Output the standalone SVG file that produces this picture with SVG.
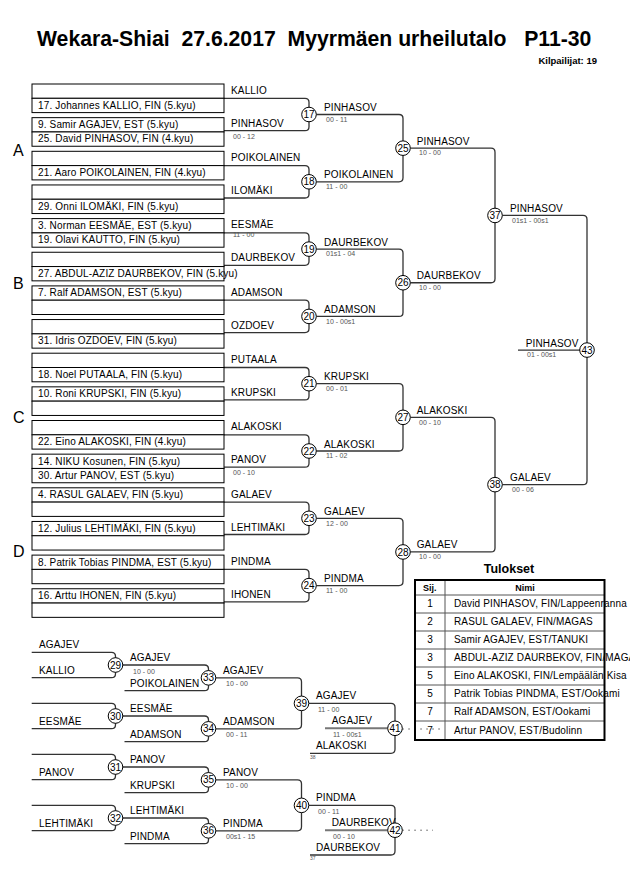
<svg xmlns="http://www.w3.org/2000/svg" width="630" height="891" viewBox="0 0 630 891">
<style>
.bg{fill:#fff}
.box{fill:#fff;stroke:#000;stroke-width:1}
.ln{fill:none;stroke:#333;stroke-width:1.3}
.gl{fill:none;stroke:#777;stroke-width:2}
.dl{fill:none;stroke:#555;stroke-width:1;stroke-dasharray:1.5 4.5}
.c{fill:#fff;stroke:#000;stroke-width:1}
text{font-family:"Liberation Sans",Arial,sans-serif;fill:#000}
.t{font-size:10px;letter-spacing:0.15px}
.s{font-size:7px;fill:#555}
.x{font-size:5px;fill:#555}
.cn{font-size:10px;text-anchor:middle}
.g{font-size:16px}
.tb{fill:none;stroke:#000;stroke-width:2}
.tl{fill:none;stroke:#555;stroke-width:1}
</style>
<rect class="bg" x="0" y="0" width="630" height="891"/>
<g id="header">
<text x="37" y="46" font-size="21.2" font-weight="bold" xml:space="preserve">Wekara-Shiai  27.6.2017  Myyrmäen urheilutalo   P11-30</text>
<text x="597" y="64" font-size="9.5" font-weight="bold" text-anchor="end">Kilpailijat: 19</text>
</g>
<g id="pools">
<text class="g" x="13" y="156">A</text>
<text class="g" x="13" y="289">B</text>
<text class="g" x="13" y="423">C</text>
<text class="g" x="13" y="557">D</text>
</g>
<g id="connectors">
<path class="ln" d="M224,98.3 H305 Q309,98.3 309,102.3 V126.7 Q309,130.7 305,130.7 H224"/>
<path class="ln" d="M224,165.6 H305 Q309,165.6 309,169.6 V194 Q309,198 305,198 H224"/>
<path class="ln" d="M224,232.9 H305 Q309,232.9 309,236.9 V261.3 Q309,265.3 305,265.3 H224"/>
<path class="ln" d="M224,300.2 H305 Q309,300.2 309,304.2 V328.6 Q309,332.6 305,332.6 H224"/>
<path class="ln" d="M224,367.5 H305 Q309,367.5 309,371.5 V395.9 Q309,399.9 305,399.9 H224"/>
<path class="ln" d="M224,434.8 H305 Q309,434.8 309,438.8 V463.2 Q309,467.2 305,467.2 H224"/>
<path class="ln" d="M224,502.1 H305 Q309,502.1 309,506.1 V530.5 Q309,534.5 305,534.5 H224"/>
<path class="ln" d="M224,569.4 H305 Q309,569.4 309,573.4 V597.8 Q309,601.8 305,601.8 H224"/>
<path class="ln" d="M316.3,114.5 H399 Q403,114.5 403,118.5 V177.8 Q403,181.8 399,181.8 H316.3"/>
<path class="ln" d="M316.3,249.1 H399 Q403,249.1 403,253.1 V312.4 Q403,316.4 399,316.4 H316.3"/>
<path class="ln" d="M316.3,383.7 H399 Q403,383.7 403,387.7 V447 Q403,451 399,451 H316.3"/>
<path class="ln" d="M316.3,518.3 H399 Q403,518.3 403,522.3 V581.6 Q403,585.6 399,585.6 H316.3"/>
<path class="ln" d="M410.3,148.15 H491 Q495,148.15 495,152.15 V278.75 Q495,282.75 491,282.75 H410.3"/>
<path class="ln" d="M410.3,417.35 H491 Q495,417.35 495,421.35 V547.95 Q495,551.95 491,551.95 H410.3"/>
<path class="ln" d="M502.3,215.45 H583 Q587,215.45 587,219.45 V480.65 Q587,484.65 583,484.65 H502.3"/>
<path class="ln" d="M518,350.05 H580"/>
<path class="ln" d="M31.7,652.3 H111.5 Q115.5,652.3 115.5,656.3 V673.7 Q115.5,677.7 111.5,677.7 H31.7"/>
<path class="ln" d="M31.7,703.3 H111.5 Q115.5,703.3 115.5,707.3 V724.7 Q115.5,728.7 111.5,728.7 H31.7"/>
<path class="ln" d="M31.7,754.3 H111.5 Q115.5,754.3 115.5,758.3 V775.7 Q115.5,779.7 111.5,779.7 H31.7"/>
<path class="ln" d="M31.7,805.3 H111.5 Q115.5,805.3 115.5,809.3 V826.7 Q115.5,830.7 111.5,830.7 H31.7"/>
<path class="ln" d="M122.8,665 H204.5 Q208.5,665 208.5,669 V686.7 Q208.5,690.7 204.5,690.7 H124.5"/>
<path class="ln" d="M122.8,716 H204.5 Q208.5,716 208.5,720 V737.7 Q208.5,741.7 204.5,741.7 H124.5"/>
<path class="ln" d="M122.8,767 H204.5 Q208.5,767 208.5,771 V788.7 Q208.5,792.7 204.5,792.7 H124.5"/>
<path class="ln" d="M122.8,818 H204.5 Q208.5,818 208.5,822 V839.7 Q208.5,843.7 204.5,843.7 H124.5"/>
<path class="ln" d="M215.8,677.85 H297.5 Q301.5,677.85 301.5,681.85 V724.85 Q301.5,728.85 297.5,728.85 H215.8"/>
<path class="ln" d="M215.8,779.85 H297.5 Q301.5,779.85 301.5,783.85 V826.85 Q301.5,830.85 297.5,830.85 H215.8"/>
<path class="ln" d="M308.8,703.35 H391 Q395,703.35 395,707.35 V749.3 Q395,753.3 391,753.3 H310"/>
<path class="ln" d="M308.8,805.35 H391 Q395,805.35 395,809.35 V851 Q395,855 391,855 H310"/>
<path class="gl" d="M325,728.3 H387.7"/>
<path class="gl" d="M325,830.2 H387.7"/>
<path class="dl" d="M402.3,729 H442"/>
<path class="dl" d="M402.3,830.2 H433"/>
</g>
<g id="entries">
<rect class="box" x="32" y="84" width="192" height="14.3"/>
<rect class="box" x="32" y="98.3" width="192" height="14.3"/>
<rect class="box" x="32" y="117.65" width="192" height="14.3"/>
<rect class="box" x="32" y="131.95" width="192" height="14.3"/>
<rect class="box" x="32" y="151.3" width="192" height="14.3"/>
<rect class="box" x="32" y="165.6" width="192" height="14.3"/>
<rect class="box" x="32" y="184.95" width="192" height="14.3"/>
<rect class="box" x="32" y="199.25" width="192" height="14.3"/>
<rect class="box" x="32" y="218.6" width="192" height="14.3"/>
<rect class="box" x="32" y="232.9" width="192" height="14.3"/>
<rect class="box" x="32" y="252.25" width="192" height="14.3"/>
<rect class="box" x="32" y="266.55" width="192" height="14.3"/>
<rect class="box" x="32" y="285.9" width="192" height="14.3"/>
<rect class="box" x="32" y="300.2" width="192" height="14.3"/>
<rect class="box" x="32" y="319.55" width="192" height="14.3"/>
<rect class="box" x="32" y="333.85" width="192" height="14.3"/>
<rect class="box" x="32" y="353.2" width="192" height="14.3"/>
<rect class="box" x="32" y="367.5" width="192" height="14.3"/>
<rect class="box" x="32" y="386.85" width="192" height="14.3"/>
<rect class="box" x="32" y="401.15" width="192" height="14.3"/>
<rect class="box" x="32" y="420.5" width="192" height="14.3"/>
<rect class="box" x="32" y="434.8" width="192" height="14.3"/>
<rect class="box" x="32" y="454.15" width="192" height="14.3"/>
<rect class="box" x="32" y="468.45" width="192" height="14.3"/>
<rect class="box" x="32" y="487.8" width="192" height="14.3"/>
<rect class="box" x="32" y="502.1" width="192" height="14.3"/>
<rect class="box" x="32" y="521.45" width="192" height="14.3"/>
<rect class="box" x="32" y="535.75" width="192" height="14.3"/>
<rect class="box" x="32" y="555.1" width="192" height="14.3"/>
<rect class="box" x="32" y="569.4" width="192" height="14.3"/>
<rect class="box" x="32" y="588.75" width="192" height="14.3"/>
<rect class="box" x="32" y="603.05" width="192" height="14.3"/>
<g class="t">
<text class="t" x="38" y="108.8">17. Johannes KALLIO, FIN (5.kyu)</text>
<text class="t" x="38" y="128.15">9. Samir AGAJEV, EST (5.kyu)</text>
<text class="t" x="38" y="142.45">25. David PINHASOV, FIN (4.kyu)</text>
<text class="t" x="38" y="176.1">21. Aaro POIKOLAINEN, FIN (4.kyu)</text>
<text class="t" x="38" y="209.75">29. Onni ILOMÄKI, FIN (5.kyu)</text>
<text class="t" x="38" y="229.1">3. Norman EESMÄE, EST (5.kyu)</text>
<text class="t" x="38" y="243.4">19. Olavi KAUTTO, FIN (5.kyu)</text>
<text class="t" x="38" y="277.05">27. ABDUL-AZIZ DAURBEKOV, FIN (5.kyu)</text>
<text class="t" x="38" y="296.4">7. Ralf ADAMSON, EST (5.kyu)</text>
<text class="t" x="38" y="344.35">31. Idris OZDOEV, FIN (5.kyu)</text>
<text class="t" x="38" y="378">18. Noel PUTAALA, FIN (5.kyu)</text>
<text class="t" x="38" y="397.35">10. Roni KRUPSKI, FIN (5.kyu)</text>
<text class="t" x="38" y="445.3">22. Eino ALAKOSKI, FIN (4.kyu)</text>
<text class="t" x="38" y="464.65">14. NIKU Kosunen, FIN (5.kyu)</text>
<text class="t" x="38" y="478.95">30. Artur PANOV, EST (5.kyu)</text>
<text class="t" x="38" y="498.3">4. RASUL GALAEV, FIN (5.kyu)</text>
<text class="t" x="38" y="531.95">12. Julius LEHTIMÄKI, FIN (5.kyu)</text>
<text class="t" x="38" y="565.6">8. Patrik Tobias PINDMA, EST (5.kyu)</text>
<text class="t" x="38" y="599.25">16. Arttu IHONEN, FIN (5.kyu)</text>
</g>
</g>
<g id="labels">
<text class="t" x="231" y="93.8">KALLIO</text>
<text class="t" x="231" y="126.7">PINHASOV</text>
<text class="s" x="233" y="139">00 - 12</text>
<text class="t" x="231" y="161.1">POIKOLAINEN</text>
<text class="t" x="231" y="194">ILOMÄKI</text>
<text class="t" x="231" y="228.4">EESMÄE</text>
<text class="s" x="233" y="237">11 - 00</text>
<text class="t" x="231" y="261.3">DAURBEKOV</text>
<text class="t" x="231" y="295.7">ADAMSON</text>
<text class="t" x="231" y="328.6">OZDOEV</text>
<text class="t" x="231" y="363">PUTAALA</text>
<text class="t" x="231" y="395.9">KRUPSKI</text>
<text class="t" x="231" y="430.3">ALAKOSKI</text>
<text class="t" x="231" y="463.2">PANOV</text>
<text class="s" x="233" y="475.3">00 - 10</text>
<text class="t" x="231" y="497.6">GALAEV</text>
<text class="t" x="231" y="530.5">LEHTIMÄKI</text>
<text class="t" x="231" y="564.9">PINDMA</text>
<text class="t" x="231" y="597.8">IHONEN</text>
<text class="t" x="324" y="111">PINHASOV</text>
<text class="s" x="326" y="121.8">00 - 11</text>
<text class="t" x="324" y="178.3">POIKOLAINEN</text>
<text class="s" x="326" y="189.1">11 - 00</text>
<text class="t" x="324" y="245.6">DAURBEKOV</text>
<text class="s" x="326" y="256.4">01s1 - 04</text>
<text class="t" x="324" y="312.9">ADAMSON</text>
<text class="s" x="326" y="323.7">10 - 00s1</text>
<text class="t" x="324" y="380.2">KRUPSKI</text>
<text class="s" x="326" y="391">00 - 01</text>
<text class="t" x="324" y="447.5">ALAKOSKI</text>
<text class="s" x="326" y="458.3">11 - 02</text>
<text class="t" x="324" y="514.8">GALAEV</text>
<text class="s" x="326" y="525.6">12 - 00</text>
<text class="t" x="324" y="582.1">PINDMA</text>
<text class="s" x="326" y="592.9">11 - 00</text>
<text class="t" x="416.7" y="144.65">PINHASOV</text>
<text class="s" x="419" y="155.45">10 - 00</text>
<text class="t" x="416.7" y="279.25">DAURBEKOV</text>
<text class="s" x="419" y="290.05">10 - 00</text>
<text class="t" x="416.7" y="413.85">ALAKOSKI</text>
<text class="s" x="419" y="424.65">00 - 10</text>
<text class="t" x="416.7" y="548.45">GALAEV</text>
<text class="s" x="419" y="559.25">10 - 00</text>
<text class="t" x="510" y="211.95">PINHASOV</text>
<text class="s" x="512" y="222.75">01s1 - 00s1</text>
<text class="t" x="510" y="481.15">GALAEV</text>
<text class="s" x="512" y="491.95">00 - 06</text>
<text class="t" x="525.7" y="346.5">PINHASOV</text>
<text class="s" x="527" y="357.3">01 - 00s1</text>
<text class="t" x="39" y="648.3">AGAJEV</text>
<text class="t" x="39" y="673.7">KALLIO</text>
<text class="t" x="39" y="724.7">EESMÄE</text>
<text class="t" x="39" y="775.7">PANOV</text>
<text class="t" x="39" y="826.7">LEHTIMÄKI</text>
<text class="t" x="130" y="661">AGAJEV</text>
<text class="s" x="133" y="673.5">10 - 00</text>
<text class="t" x="130" y="686.7">POIKOLAINEN</text>
<text class="t" x="130" y="712">EESMÄE</text>
<text class="t" x="130" y="737.7">ADAMSON</text>
<text class="t" x="130" y="763">PANOV</text>
<text class="t" x="130" y="788.7">KRUPSKI</text>
<text class="t" x="130" y="814">LEHTIMÄKI</text>
<text class="t" x="130" y="839.7">PINDMA</text>
<text class="t" x="223" y="673.85">AGAJEV</text>
<text class="s" x="226" y="685.6">10 - 00</text>
<text class="t" x="223" y="724.85">ADAMSON</text>
<text class="s" x="226" y="736.6">00 - 11</text>
<text class="t" x="223" y="775.85">PANOV</text>
<text class="s" x="226" y="787.6">10 - 00</text>
<text class="t" x="223" y="826.85">PINDMA</text>
<text class="s" x="226" y="838.6">00s1 - 15</text>
<text class="t" x="316" y="699.35">AGAJEV</text>
<text class="s" x="318" y="711.6">11 - 00</text>
<text class="t" x="331.7" y="724.3">AGAJEV</text>
<text class="s" x="333" y="736.6">11 - 00s1</text>
<text class="t" x="316" y="749.3">ALAKOSKI</text>
<text class="x" x="310" y="758.6">38</text>
<text class="t" x="316" y="801.35">PINDMA</text>
<text class="s" x="318" y="813.6">00 - 11</text>
<text class="t" x="331.7" y="826.2" letter-spacing="0">DAURBEKOV</text>
<text class="s" x="333" y="838.5">00 - 10</text>
<text class="t" x="316" y="851">DAURBEKOV</text>
<text class="x" x="310" y="860.3">37</text>
</g>
<g id="matches">
<g id="m17"><circle class="c" cx="309" cy="114.5" r="7.3"/><text class="cn" x="309" y="118.1">17</text></g>
<g id="m18"><circle class="c" cx="309" cy="181.8" r="7.3"/><text class="cn" x="309" y="185.4">18</text></g>
<g id="m19"><circle class="c" cx="309" cy="249.1" r="7.3"/><text class="cn" x="309" y="252.7">19</text></g>
<g id="m20"><circle class="c" cx="309" cy="316.4" r="7.3"/><text class="cn" x="309" y="320">20</text></g>
<g id="m21"><circle class="c" cx="309" cy="383.7" r="7.3"/><text class="cn" x="309" y="387.3">21</text></g>
<g id="m22"><circle class="c" cx="309" cy="451" r="7.3"/><text class="cn" x="309" y="454.6">22</text></g>
<g id="m23"><circle class="c" cx="309" cy="518.3" r="7.3"/><text class="cn" x="309" y="521.9">23</text></g>
<g id="m24"><circle class="c" cx="309" cy="585.6" r="7.3"/><text class="cn" x="309" y="589.2">24</text></g>
<g id="m25"><circle class="c" cx="403" cy="148.15" r="7.3"/><text class="cn" x="403" y="151.75">25</text></g>
<g id="m26"><circle class="c" cx="403" cy="282.75" r="7.3"/><text class="cn" x="403" y="286.35">26</text></g>
<g id="m27"><circle class="c" cx="403" cy="417.35" r="7.3"/><text class="cn" x="403" y="420.95">27</text></g>
<g id="m28"><circle class="c" cx="403" cy="551.95" r="7.3"/><text class="cn" x="403" y="555.55">28</text></g>
<g id="m37"><circle class="c" cx="495" cy="215.45" r="7.3"/><text class="cn" x="495" y="219.05">37</text></g>
<g id="m38"><circle class="c" cx="495" cy="484.65" r="7.3"/><text class="cn" x="495" y="488.25">38</text></g>
<g id="m43"><circle class="c" cx="587" cy="350.05" r="7.3"/><text class="cn" x="587" y="353.65">43</text></g>
<g id="m29"><circle class="c" cx="115.5" cy="665" r="7.3"/><text class="cn" x="115.5" y="668.6">29</text></g>
<g id="m30"><circle class="c" cx="115.5" cy="716" r="7.3"/><text class="cn" x="115.5" y="719.6">30</text></g>
<g id="m31"><circle class="c" cx="115.5" cy="767" r="7.3"/><text class="cn" x="115.5" y="770.6">31</text></g>
<g id="m32"><circle class="c" cx="115.5" cy="818" r="7.3"/><text class="cn" x="115.5" y="821.6">32</text></g>
<g id="m33"><circle class="c" cx="208.5" cy="677.85" r="7.3"/><text class="cn" x="208.5" y="681.45">33</text></g>
<g id="m34"><circle class="c" cx="208.5" cy="728.85" r="7.3"/><text class="cn" x="208.5" y="732.45">34</text></g>
<g id="m35"><circle class="c" cx="208.5" cy="779.85" r="7.3"/><text class="cn" x="208.5" y="783.45">35</text></g>
<g id="m36"><circle class="c" cx="208.5" cy="830.85" r="7.3"/><text class="cn" x="208.5" y="834.45">36</text></g>
<g id="m39"><circle class="c" cx="301.5" cy="703.35" r="7.3"/><text class="cn" x="301.5" y="706.95">39</text></g>
<g id="m40"><circle class="c" cx="301.5" cy="805.35" r="7.3"/><text class="cn" x="301.5" y="808.95">40</text></g>
<g id="m41"><circle class="c" cx="395" cy="728.3" r="7.3"/><text class="cn" x="395" y="731.9">41</text></g>
<g id="m42"><circle class="c" cx="395" cy="830.2" r="7.3"/><text class="cn" x="395" y="833.8">42</text></g>
</g>
<g id="results">
<text x="509" y="573" font-size="12.5" font-weight="bold" text-anchor="middle">Tulokset</text>
<text x="423" y="590.5" font-size="9" font-weight="bold">Sij.</text>
<text x="525" y="590.5" font-size="9" font-weight="bold" text-anchor="middle">Nimi</text>
<g class="t">
<text class="t" x="430" y="607.3" text-anchor="middle">1</text><text class="t" x="454" y="607.3">David PINHASOV, FIN/Lappeenranna</text>
<text class="t" x="430" y="625.3" text-anchor="middle">2</text><text class="t" x="454" y="625.3">RASUL GALAEV, FIN/MAGAS</text>
<text class="t" x="430" y="643.3" text-anchor="middle">3</text><text class="t" x="454" y="643.3">Samir AGAJEV, EST/TANUKI</text>
<text class="t" x="430" y="661.3" text-anchor="middle">3</text><text class="t" x="454" y="661.3">ABDUL-AZIZ DAURBEKOV, FIN/MAGAS</text>
<text class="t" x="430" y="679.3" text-anchor="middle">5</text><text class="t" x="454" y="679.3">Eino ALAKOSKI, FIN/Lempäälän Kisa</text>
<text class="t" x="430" y="697.3" text-anchor="middle">5</text><text class="t" x="454" y="697.3">Patrik Tobias PINDMA, EST/Ookami</text>
<text class="t" x="430" y="715.3" text-anchor="middle">7</text><text class="t" x="454" y="715.3">Ralf ADAMSON, EST/Ookami</text>
<text class="t" x="430" y="734" text-anchor="middle">7</text><text class="t" x="454" y="734">Artur PANOV, EST/Budolinn</text>
</g>
<path class="tl" d="M415,595 H604.5 M415,613 H604.5 M415,631 H604.5 M415,649 H604.5 M415,667 H604.5 M415,685 H604.5 M415,703 H604.5 M415,721 H604.5 M445,580 V740"/>
<rect class="tb" x="415" y="580" width="189.5" height="160"/>
</g>
</svg>
